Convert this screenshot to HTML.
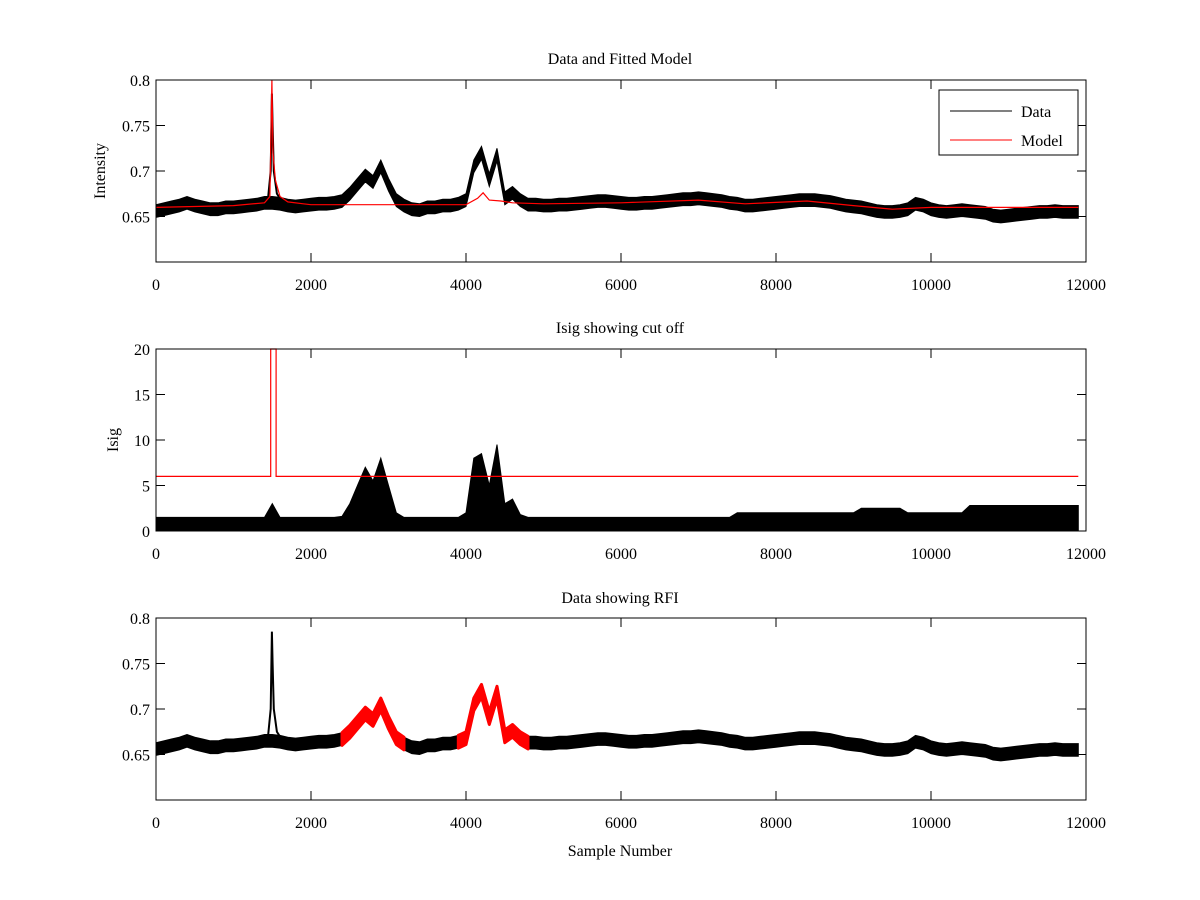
<!DOCTYPE html>
<html><head><meta charset="utf-8">
<style>
body{margin:0;background:#fff;}
svg{display:block;font-family:"Liberation Serif",serif;}
text{font-size:16px;fill:#000;}
</style></head>
<body>
<svg id="chart" width="1200" height="900" viewBox="0 0 1200 900" xmlns="http://www.w3.org/2000/svg">
<rect width="1200" height="900" fill="#fff"/>
</svg>
<script>
// ---- data ----
const sampleStep = 100;
const intensity = [
.656,.658,.66,.662,.665,.662,.66,.658,.658,.66,.66,.661,.662,.663,.665,
.665,
.664,.662,.661,.662,.663,.664,.664,.665,.667,
.675,.685,.695,.688,.705,.685,.668,.662,
.658,.657,.66,.66,.662,.662,.664,.668,
.705,.72,.69,.718,.67,.676,.668,.663,
.663,
.662,.662,.663,.663,.664,.665,.666,.667,.667,.666,
.665,.664,.664,.665,.665,.666,.667,.668,.669,.669,
.67,.669,.668,.667,.665,.664,.662,.662,.663,.664,
.665,.666,.667,.668,.668,.668,.667,.666,.664,.662,
.661,.66,.658,.656,.655,.655,.656,.658,.664,.662,
.658,.656,.655,.656,.657,.656,.655,.654,.651,.65,
.651,.652,.653,.654,.655,.655,.656,.655,.655,.655];
const noiseHalf = 0.007;
const spikeX = [1440,1480,1495,1505,1520,1560,1620];
const spikeY = [.665,.7,.785,.75,.7,.675,.667];
const modelX = [0,1000,1400,1470,1495,1510,1540,1600,1700,1900,2000,4000,4150,4220,4300,4450,4600,5000,6000,7000,7600,8400,9000,9500,10000,11900];
const modelY = [.66,.662,.665,.672,.8,.72,.69,.672,.666,.664,.663,.663,.67,.676,.668,.667,.665,.664,.665,.668,.664,.667,.662,.658,.66,.66];
const isigHi = [
1.5,1.5,1.5,1.5,1.5,1.5,1.5,1.5,1.5,1.5,1.5,1.5,1.5,1.5,1.5,3,1.5,1.5,1.5,1.5,1.5,1.5,1.5,1.5,1.6,
3,5,7,5.5,8,5,2,1.5,
1.5,1.5,1.5,1.5,1.5,1.5,1.5,2,
8,8.5,5,9.5,3,3.5,1.8,1.5,
1.5,1.5,1.5,1.5,1.5,1.5,1.5,1.5,1.5,1.5,1.5,1.5,1.5,1.5,1.5,1.5,1.5,1.5,1.5,1.5,1.5,1.5,1.5,1.5,1.5,1.5,
2,2,2,2,2,2,2,2,2,2,2,2,2,2,2,2,
2.5,2.5,2.5,2.5,2.5,2.5,
2,2,2,2,2,2,2,2,
2.8,2.8,2.8,2.8,2.8,2.8,2.8,2.8,2.8,2.8,2.8,2.8,2.8,2.8,2.8];
const cutoffX = [0,1480,1480,1550,1550,11900];
const cutoffY = [6,6,20,20,6,6];
const rfiStart = [2400,3850];
const rfiEnd = [3200,4750];
const xTicks = [0,2000,4000,6000,8000,10000,12000];
const intTicks = [0.65,0.7,0.75,0.8];
const intTickLabels = ["0.65","0.7","0.75","0.8"];
const isigTicks = [0,5,10,15,20];

// ---- layout ----
const svg = document.getElementById('chart');
const NS = 'http://www.w3.org/2000/svg';
const X0 = 156, X1 = 1086;
const panels = [
 {top:80,bot:262,ymin:0.6,ymax:0.8},
 {top:349,bot:531,ymin:0,ymax:20},
 {top:618,bot:800,ymin:0.6,ymax:0.8}];
function sx(v){return X0+(v-0)/(12000-0)*(X1-X0);}
function sy(p,v){return p.bot-(v-p.ymin)/(p.ymax-p.ymin)*(p.bot-p.top);}
function mk(tag,attrs,parent){const e=document.createElementNS(NS,tag);for(const k in attrs)e.setAttribute(k,attrs[k]);(parent||svg).appendChild(e);return e;}
function txt(x,y,s,anchor,parent){const t=mk('text',{x:x,y:y,'text-anchor':anchor||'middle'},parent);t.textContent=s;return t;}

function bandPath(p,i0,i1,hiFn,loFn){
 let up=[],lo=[];
 for(let i=i0;i<=i1;i++){const x=sx(i*sampleStep);up.push(x.toFixed(1)+','+sy(p,hiFn(i)).toFixed(1));lo.unshift(x.toFixed(1)+','+sy(p,loFn(i)).toFixed(1));}
 return 'M'+up.join('L')+'L'+lo.join('L')+'Z';
}
function linePts(p,xs,ys){return xs.map((x,i)=>sx(x).toFixed(1)+','+sy(p,ys[i]).toFixed(1)).join(' ');}

function axes(p,name,ticks,labels){
 const g=mk('g',{});
 
 
 const fr=mk('rect',{x:X0,y:p.top,width:X1-X0,height:p.bot-p.top,fill:'none',stroke:'#000','stroke-width':1},g);
 
 
 xTicks.forEach(v=>{const x=sx(v);
  mk('line',{x1:x,x2:x,y1:p.bot,y2:p.bot-9,stroke:'#000'},g);
  mk('line',{x1:x,x2:x,y1:p.top,y2:p.top+9,stroke:'#000'},g);
  const t=txt(x,p.bot+28,String(v),'middle',g);
  
  
 });
 ticks.forEach((v,i)=>{const y=sy(p,v);
  mk('line',{x1:X0,x2:X0+9,y1:y,y2:y,stroke:'#000'},g);
  mk('line',{x1:X1,x2:X1-9,y1:y,y2:y,stroke:'#000'},g);
  const t=txt(X0-6,y+6,labels[i],'end',g);
  
  
 });
}
const N = intensity.length-1;
// Panel 1
{const p=panels[0];
 const d=mk('path',{d:bandPath(p,0,N,i=>intensity[i]+noiseHalf,i=>intensity[i]-noiseHalf),fill:'#000',stroke:'#000','stroke-width':1});
 
 
 const s=mk('polyline',{points:linePts(p,spikeX,spikeY),fill:'none',stroke:'#000','stroke-width':2});
 
 
 const m=mk('polyline',{points:linePts(p,modelX,modelY),fill:'none',stroke:'#f00','stroke-width':1.2});
 
 
 axes(p,'panel1',intTicks,intTickLabels);
 const t=txt(620,64,'Data and Fitted Model');
 const yl=txt(0,0,'Intensity');yl.setAttribute('transform','translate(105,171) rotate(-90)');
 const lg=mk('g',{});
 mk('rect',{x:939,y:90,width:139,height:65,fill:'#fff',stroke:'#000'},lg);
 mk('line',{x1:950,x2:1012,y1:111,y2:111,stroke:'#000'},lg);
 mk('line',{x1:950,x2:1012,y1:140,y2:140,stroke:'#f00'},lg);
 const a=txt(1021,117,'Data','start',lg);
 const b=txt(1021,146,'Model','start',lg);
}
// Panel 2
{const p=panels[1];
 const d=mk('path',{d:bandPath(p,0,N,i=>isigHi[i],i=>0.1),fill:'#000',stroke:'#000','stroke-width':1});
 
 
 const c=mk('polyline',{points:linePts(p,cutoffX,cutoffY),fill:'none',stroke:'#f00','stroke-width':1.2});
 
 
 axes(p,'panel2',isigTicks,isigTicks.map(String));
 const t=txt(620,333,'Isig showing cut off');
 const yl=txt(0,0,'Isig');yl.setAttribute('transform','translate(118,440) rotate(-90)');
}
// Panel 3
{const p=panels[2];
 const d=mk('path',{d:bandPath(p,0,N,i=>intensity[i]+noiseHalf,i=>intensity[i]-noiseHalf),fill:'#000',stroke:'#000','stroke-width':1});
 
 
 const s=mk('polyline',{points:linePts(p,spikeX,spikeY),fill:'none',stroke:'#000','stroke-width':2});
 
 
 rfiStart.forEach((st,k)=>{
  const r=mk('path',{d:bandPath(p,Math.round(st/sampleStep),Math.round(rfiEnd[k]/sampleStep),i=>intensity[i]+noiseHalf,i=>intensity[i]-noiseHalf),fill:'#f00',stroke:'#f00','stroke-width':3,'stroke-linejoin':'round'});
  
  
 });
 axes(p,'panel3',intTicks,intTickLabels);
 const t=txt(620,603,'Data showing RFI');
 const xl=txt(620,856,'Sample Number');
}
</script>
</body></html>
